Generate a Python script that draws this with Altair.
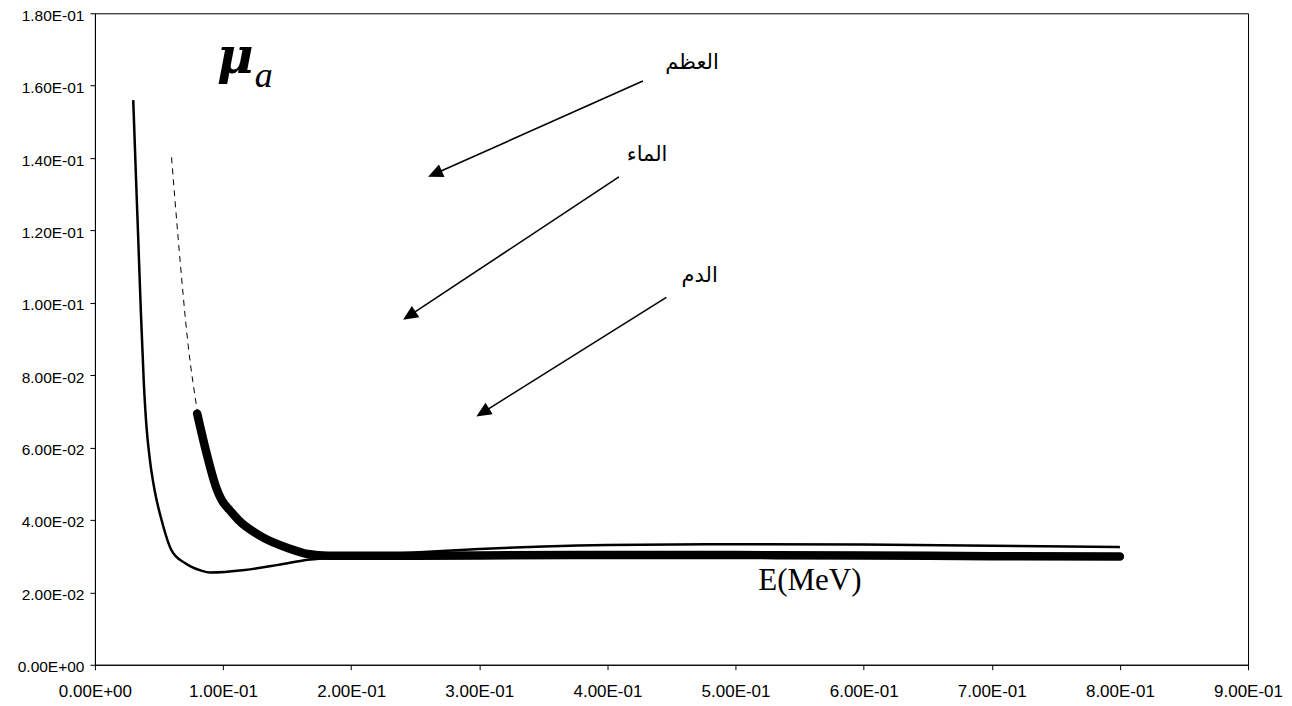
import math
import altair as alt
import pandas as pd

# ---- data ----
thin_E = [0.0299, 0.0318, 0.0338, 0.0358, 0.0381, 0.0403, 0.0429, 0.0468, 0.052, 0.0598,
          0.0702, 0.083, 0.0897, 0.117, 0.143, 0.166, 0.2, 0.25, 0.3, 0.35, 0.4, 0.5, 0.6, 0.7, 0.8]
thin_mu = [0.156, 0.137, 0.1177, 0.098, 0.0783, 0.0655, 0.0566, 0.0478, 0.040, 0.0316,
           0.0281, 0.026, 0.0255, 0.0262, 0.0276, 0.029, 0.0300, 0.0310, 0.0320, 0.0327,
           0.0331, 0.0333, 0.0332, 0.0329, 0.0325]

thick_E = [0.0798, 0.087, 0.0949, 0.0988, 0.105, 0.112, 0.13, 0.151, 0.166, 0.182,
           0.25, 0.3, 0.4, 0.5, 0.6, 0.7, 0.8]
thick_mu = [0.0694, 0.0586, 0.0487, 0.0456, 0.0428, 0.040, 0.0354, 0.0322, 0.0306, 0.0301,
            0.0301, 0.0302, 0.0303, 0.0303, 0.0302, 0.0300, 0.0299]

dash_E = [0.0598, 0.065, 0.0728, 0.0798]
dash_mu = [0.1402, 0.1177, 0.0882, 0.0704]

arrow_labels = ["العظم", "الماء", "الدم"]
arrow_start_E = [0.4277, 0.409, 0.446]
arrow_start_mu = [0.1613, 0.1348, 0.1015]
arrow_tip_E = [0.260, 0.2405, 0.2977]
arrow_tip_mu = [0.1348, 0.0953, 0.0686]
label_E = [0.466, 0.431, 0.472]
label_mu = [0.1662, 0.1408, 0.1074]

unit_text = ["E(MeV)"]
unit_E = [0.558]
unit_mu = [0.0232]

mu_text = ["μ"]
mu_E = [0.0952]
mu_mu = [0.1634]
sub_text = ["a"]
sub_E = [0.1248]
sub_mu = [0.1595]

x_ticks = [0.0, 0.1, 0.2, 0.3, 0.4, 0.5, 0.6, 0.7, 0.8, 0.9]
y_ticks = [0.0, 0.02, 0.04, 0.06, 0.08, 0.10, 0.12, 0.14, 0.16, 0.18]

# ---- layout ----
W, H = 1154, 652
X_MAX, Y_MAX = 0.9, 0.18
px_per_E = W / X_MAX
px_per_mu = H / Y_MAX
HEAD_LEN = 15

thin_df = pd.DataFrame({"E": thin_E, "mu": thin_mu})
thick_df = pd.DataFrame({"E": thick_E, "mu": thick_mu})
dash_df = pd.DataFrame({"E": dash_E, "mu": dash_mu})

rows = []
for lab, sE, smu, tE, tmu in zip(arrow_labels, arrow_start_E, arrow_start_mu, arrow_tip_E, arrow_tip_mu):
    dx = (tE - sE) * px_per_E
    dy = -(tmu - smu) * px_per_mu
    L = math.hypot(dx, dy)
    ang = math.degrees(math.atan2(dy, dx)) % 360
    bE = tE - (dx / L) * (HEAD_LEN - 2) / px_per_E
    bmu = tmu + (dy / L) * (HEAD_LEN - 2) / px_per_mu
    rows.append({"label": lab, "sE": sE, "smu": smu, "tE": tE, "tmu": tmu,
                 "bE": bE, "bmu": bmu, "angle": ang})
arrow_df = pd.DataFrame(rows)
label_df = pd.DataFrame({"label": arrow_labels, "E": label_E, "mu": label_mu})

xs = alt.Scale(domain=[0, X_MAX], nice=False, zero=False)
ys = alt.Scale(domain=[0, Y_MAX], nice=False, zero=False)

x_axis = alt.Axis(values=x_ticks, grid=False, tickSize=5, labelPadding=14, labelFlush=False,
                  labelExpr="datum.value == 0 ? '0.00E+00' : format(datum.value*10, '.2f') + 'E-01'",
                  title=None, labelFontSize=17)
y_axis = alt.Axis(values=y_ticks, grid=False, tickSize=5, labelPadding=6, labelFlush=False,
                  labelOffset=2,
                  labelExpr="datum.value == 0 ? '0.00E+00' : (datum.value < 0.099 ? format(datum.value*100, '.2f') + 'E-02' : format(datum.value*10, '.2f') + 'E-01')",
                  title=None, labelFontSize=15.5)

X = alt.X("E:Q", scale=xs, axis=x_axis)
Y = alt.Y("mu:Q", scale=ys, axis=y_axis)

thin = alt.Chart(thin_df).mark_line(color="black", strokeWidth=2.5, interpolate="monotone").encode(x=X, y=Y)
thick = alt.Chart(thick_df).mark_line(color="black", strokeWidth=8.5, strokeCap="round",
                                      strokeJoin="round", interpolate="monotone").encode(
    x=alt.X("E:Q", scale=xs), y=alt.Y("mu:Q", scale=ys))
dash = alt.Chart(dash_df).mark_line(color="black", strokeWidth=1, strokeDash=[6, 5],
                                    interpolate="monotone").encode(
    x=alt.X("E:Q", scale=xs), y=alt.Y("mu:Q", scale=ys))

shafts = alt.Chart(arrow_df).mark_rule(color="black", strokeWidth=1.6).encode(
    x=alt.X("sE:Q", scale=xs), y=alt.Y("smu:Q", scale=ys), x2="bE:Q", y2="bmu:Q")
heads = alt.Chart(arrow_df).mark_point(
    shape="M0,0L-1,-0.45L-1,0.45Z", filled=True, color="black", opacity=1,
    size=(2 * HEAD_LEN) ** 2, strokeWidth=0).encode(
    x=alt.X("tE:Q", scale=xs), y=alt.Y("tmu:Q", scale=ys),
    angle=alt.Angle("angle:Q", scale=None))

labels = alt.Chart(label_df).mark_text(font="DejaVu Sans", fontSize=21, color="black",
                                       align="center", baseline="middle").encode(
    x=alt.X("E:Q", scale=xs), y=alt.Y("mu:Q", scale=ys), text="label:N")

unit = alt.Chart(pd.DataFrame({"t": unit_text, "E": unit_E, "mu": unit_mu})).mark_text(
    font="Liberation Serif", fontSize=31, color="black", align="center", baseline="middle").encode(
    x=alt.X("E:Q", scale=xs), y=alt.Y("mu:Q", scale=ys), text="t:N")

mu_sym = alt.Chart(pd.DataFrame({"t": mu_text, "E": mu_E, "mu": mu_mu})).mark_text(
    font="DejaVu Serif", fontSize=50, fontStyle="italic", fontWeight="bold", color="black",
    align="left", baseline="alphabetic").encode(
    x=alt.X("E:Q", scale=xs), y=alt.Y("mu:Q", scale=ys), text="t:N")
mu_sub = alt.Chart(pd.DataFrame({"t": sub_text, "E": sub_E, "mu": sub_mu})).mark_text(
    font="Liberation Serif", fontSize=36, fontStyle="italic", color="black",
    align="left", baseline="alphabetic").encode(
    x=alt.X("E:Q", scale=xs), y=alt.Y("mu:Q", scale=ys), text="t:N")

chart = alt.layer(thin, dash, thick, shafts, heads, labels, unit, mu_sym, mu_sub).properties(
    width=W, height=H,
    autosize=alt.AutoSizeParams(type="none"),
    padding={"left": 87, "top": 5, "right": 36, "bottom": 40},
).configure_view(stroke="black", strokeWidth=1).configure_axis(
    domainColor="black", tickColor="black", labelColor="black", labelFont="Liberation Sans",
    domainWidth=1, tickWidth=1)

chart.save("out.html", embed_options={"renderer": "svg", "actions": False})
